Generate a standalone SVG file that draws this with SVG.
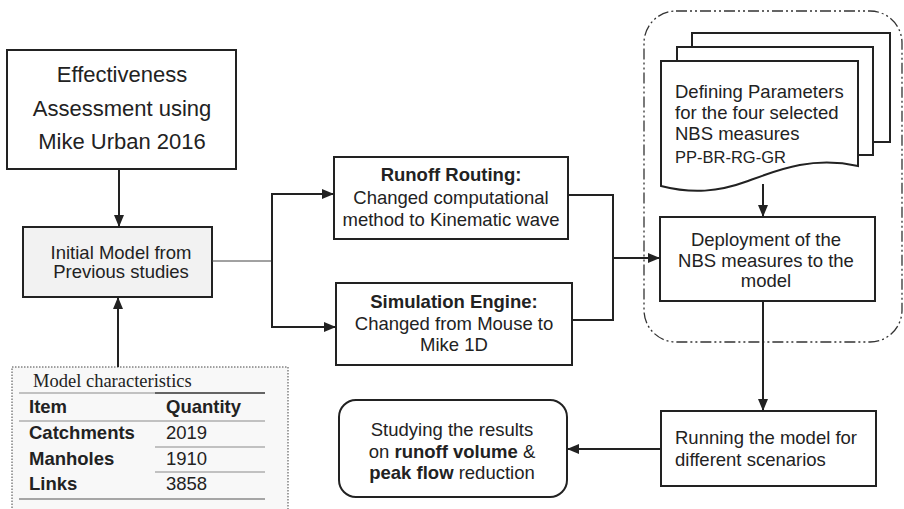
<svg xmlns="http://www.w3.org/2000/svg" width="904" height="509" viewBox="0 0 904 509">
<style>
  .box { fill: #ffffff; stroke: #222222; stroke-width: 2; }
  .t { font-family: "Liberation Sans", Arial, sans-serif; font-size: 18.5px; fill: #222222; }
  .c { text-anchor: middle; }
  .b { font-weight: bold; }
  .conn { fill: none; stroke: #222222; stroke-width: 2; }
  .rule { stroke: #8a8a8a; stroke-width: 1; }
</style>
<defs>
  <marker id="ah" viewBox="0 0 12 10" refX="12" refY="5" markerWidth="12" markerHeight="10" markerUnits="userSpaceOnUse" orient="auto">
    <path d="M0,0 L12,5 L0,10 z" fill="#222222"/>
  </marker>
</defs>

<!-- dash-dot grouping boundary -->
<g id="nbs-group">
  <rect x="644" y="11" width="258" height="331" rx="32" ry="32" fill="none" stroke="#333333" stroke-width="1.3" stroke-dasharray="11 3 2 3 2 3"/>
</g>

<g id="effectiveness">
  <rect class="box" x="7" y="50" width="229" height="119"/>
  <text class="t c" x="122" y="82" style="font-size:22px">Effectiveness</text>
  <text class="t c" x="122" y="115.5" style="font-size:22px">Assessment using</text>
  <text class="t c" x="122" y="149" style="font-size:22px">Mike Urban 2016</text>
</g>

<g id="initial-model">
  <rect class="box" x="23" y="227" width="189" height="70" style="fill:#f2f2f2"/>
  <text class="t c" x="121" y="259">Initial Model from</text>
  <text class="t c" x="121" y="278">Previous studies</text>
</g>

<g id="model-characteristics">
  <rect x="12" y="367" width="276" height="150" fill="#f8f8f8" stroke="#444444" stroke-width="1" stroke-dasharray="1.5 1.5"/>
  <text x="33" y="387" style="font-family:'Liberation Serif','Times New Roman',serif;font-size:18.5px;fill:#222">Model characteristics</text>
  <line class="rule" x1="19" y1="393" x2="155" y2="393"/>
  <line x1="155" y1="393" x2="265" y2="393" stroke="#333333" stroke-width="1.6"/>
  <text class="t b" x="29" y="413">Item</text>
  <text class="t b" x="166" y="413">Quantity</text>
  <line class="rule" x1="19" y1="421" x2="265" y2="421"/>
  <text class="t b" x="29" y="439">Catchments</text>
  <text class="t" x="166" y="439">2019</text>
  <line class="rule" x1="155" y1="447" x2="265" y2="447"/>
  <text class="t b" x="29" y="465">Manholes</text>
  <text class="t" x="166" y="465">1910</text>
  <line class="rule" x1="155" y1="472" x2="265" y2="472"/>
  <text class="t b" x="29" y="490">Links</text>
  <text class="t" x="166" y="490">3858</text>
  <line x1="19" y1="499" x2="265" y2="499" stroke="#555555" stroke-width="1.2"/>
</g>

<g id="runoff-routing">
  <rect class="box" x="334" y="157" width="234" height="82"/>
  <text class="t c b" x="451" y="181">Runoff Routing:</text>
  <text class="t c" x="451" y="204">Changed computational</text>
  <text class="t c" x="451" y="226">method to Kinematic wave</text>
</g>

<g id="simulation-engine">
  <rect class="box" x="336" y="283" width="236" height="82"/>
  <text class="t c b" x="454" y="308">Simulation Engine:</text>
  <text class="t c" x="454" y="330">Changed from Mouse to</text>
  <text class="t c" x="454" y="351">Mike 1D</text>
</g>

<g id="defining-parameters">
  <rect class="box" x="692" y="33" width="198" height="109"/>
  <rect class="box" x="677" y="47" width="196" height="108"/>
  <path class="box" d="M661,61 H858 V166 C812,156 778,170 748,181 C718,192 692,194 661,186 Z"/>
  <text class="t" x="675" y="98">Defining Parameters</text>
  <text class="t" x="675" y="119">for the four selected</text>
  <text class="t" x="675" y="140">NBS measures</text>
  <text class="t" x="675" y="163" style="font-size:16.5px">PP-BR-RG-GR</text>
</g>

<g id="deployment">
  <rect class="box" x="660" y="217" width="215" height="84"/>
  <text class="t c" x="766" y="246">Deployment of the</text>
  <text class="t c" x="766" y="267">NBS measures to the</text>
  <text class="t c" x="766" y="287">model</text>
</g>

<g id="running-model">
  <rect class="box" x="661" y="411" width="215" height="75"/>
  <text class="t" x="675" y="444">Running the model for</text>
  <text class="t" x="675" y="466">different scenarios</text>
</g>

<g id="studying-results">
  <rect class="box" x="339" y="400" width="228" height="97" rx="17" ry="17"/>
  <text class="t c" x="452" y="436">Studying the results</text>
  <text class="t c" x="452" y="458">on <tspan class="b">runoff volume</tspan> &amp;</text>
  <text class="t c" x="452" y="479"><tspan class="b">peak flow</tspan> reduction</text>
</g>

<g id="connectors">
  <line class="conn" x1="119" y1="169" x2="119" y2="227" marker-end="url(#ah)"/>
  <line class="conn" x1="118" y1="367" x2="118" y2="297" marker-end="url(#ah)"/>
  <line x1="212" y1="261" x2="272" y2="261" stroke="#444444" stroke-width="1"/>
  <polyline class="conn" points="333,194 272,194 272,327 335,327" style="marker-end:none"/>
  <line class="conn" x1="272" y1="194" x2="334" y2="194" marker-end="url(#ah)"/>
  <line class="conn" x1="272" y1="327" x2="336" y2="327" marker-end="url(#ah)"/>
  <polyline class="conn" points="568,195 613,195 613,320 572,320"/>
  <line class="conn" x1="613" y1="258" x2="660" y2="258" stroke-width="2.6" marker-end="url(#ah)"/>
  <line class="conn" x1="763" y1="184" x2="763" y2="217" marker-end="url(#ah)"/>
  <line class="conn" x1="763" y1="301" x2="763" y2="411" marker-end="url(#ah)"/>
  <line class="conn" x1="661" y1="449" x2="567" y2="449" stroke-width="3" marker-end="url(#ah)"/>
</g>
</svg>
